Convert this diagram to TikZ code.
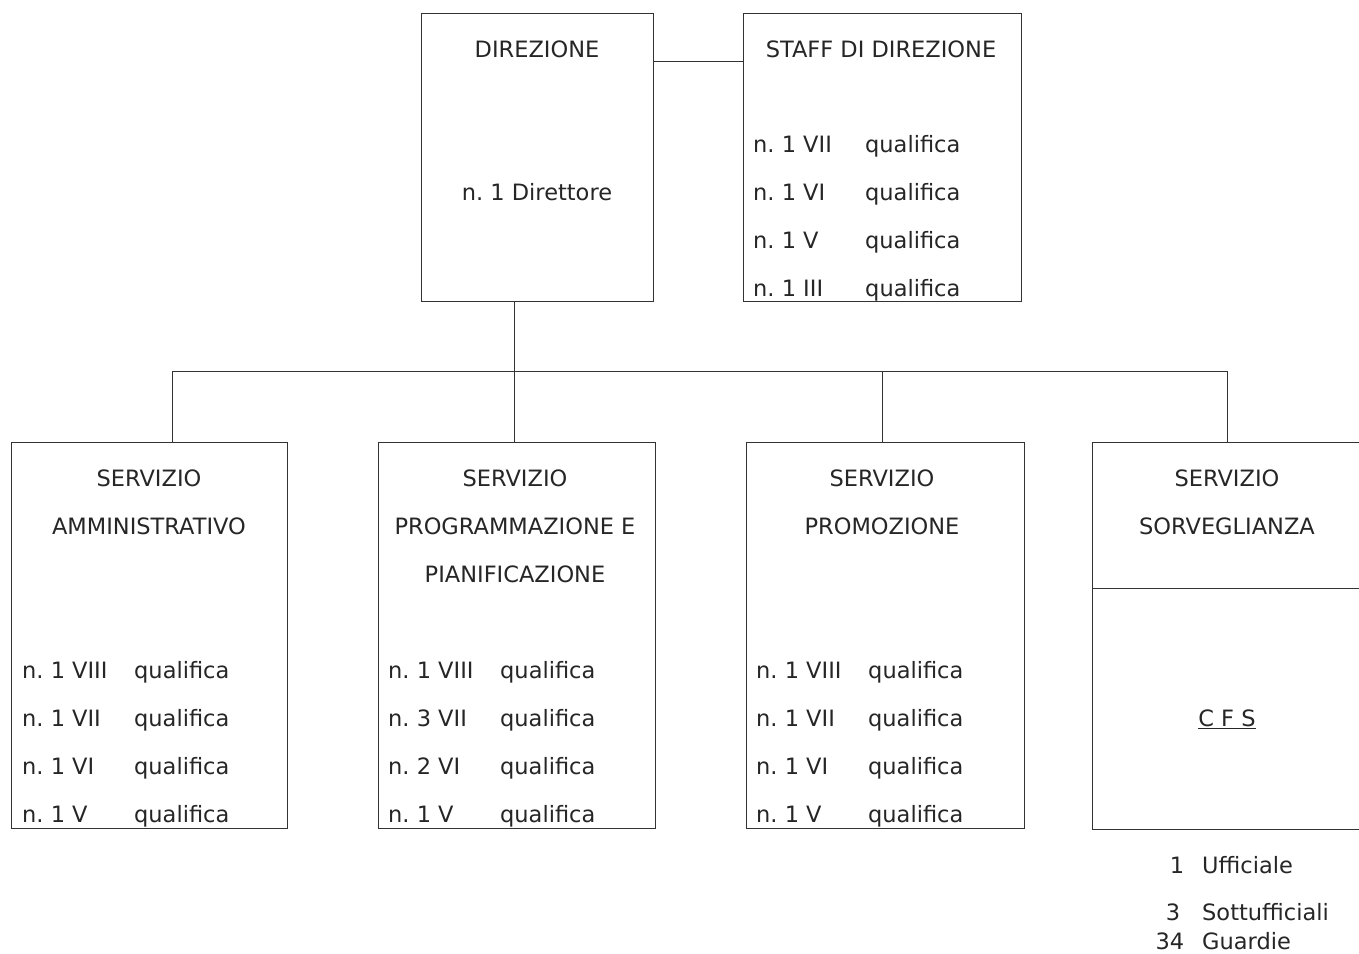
\documentclass[tikz,border=0pt]{standalone}
\usepackage{fontspec}
\setmainfont{DejaVu Sans}
\frenchspacing
\begin{document}
\begin{tikzpicture}[x=1pt,y=-1pt,
  box/.style={draw=black!80, line width=0.9pt, anchor=north west, inner sep=0pt},
  conn/.style={draw=black!80, line width=0.9pt},
  head/.style={anchor=base, inner sep=0pt, text=black!85},
  item/.style={anchor=base west, inner sep=0pt, text=black!85},
  every node/.append style={font=\fontsize{22.5}{27}\selectfont}]
\useasboundingbox (0,0) rectangle (1359,953);
\fill[white] (0,0) rectangle (1359,953);
\newcommand\qrow[2]{\makebox[112pt][l]{#1}#2}
% top boxes
\node[box, minimum width=232pt, minimum height=288pt] (dir) at (421,13) {};
\node[box, minimum width=278pt, minimum height=288pt] (staff) at (743,13) {};
% service boxes
\node[box, minimum width=276pt, minimum height=386pt] (s1) at (11,442) {};
\node[box, minimum width=277pt, minimum height=386pt] (s2) at (378,442) {};
\node[box, minimum width=278pt, minimum height=386pt] (s3) at (746,442) {};
\node[box, minimum width=272pt, minimum height=387pt] (s4) at (1092,442) {};
% helper coordinates
\coordinate (hrow) at (0,61);
\coordinate (bus) at (0,371);
\coordinate (div) at (0,588);
\coordinate (x0) at (514,0);
\coordinate (x1) at (172,0);
\coordinate (x2) at (514,0);
\coordinate (x3) at (882,0);
\coordinate (x4) at (1227,0);
% connectors
\draw[conn] (dir.east |- hrow) -- (staff.west |- hrow);
\draw[conn] (x0 |- dir.south) -- (x0 |- bus);
\draw[conn] (x1 |- bus) -- (x4 |- bus);
\draw[conn] (x1 |- bus) -- (x1 |- s1.north);
\draw[conn] (x2 |- bus) -- (x2 |- s2.north);
\draw[conn] (x3 |- bus) -- (x3 |- s3.north);
\draw[conn] (x4 |- bus) -- (x4 |- s4.north);
\draw[conn] (s4.west |- div) -- (s4.east |- div);
% DIREZIONE
\node[head] (dirt) at (537,57) {DIREZIONE};
\node[head] (dirn) at (537,200) {n. 1 Direttore};
% STAFF
\node[head] (stt) at (881,57) {STAFF DI DIREZIONE};
\node[item] (st1) at (753,152) {\qrow{n. 1 VII}{qualifica}};
\node[item] (st2) at (753,200) {\qrow{n. 1 VI}{qualifica}};
\node[item] (st3) at (753,248) {\qrow{n. 1 V}{qualifica}};
\node[item] (st4) at (753,296) {\qrow{n. 1 III}{qualifica}};
% Servizio amministrativo
\node[head] (s1a) at (149,486) {SERVIZIO};
\node[head] (s1b) at (149,534) {AMMINISTRATIVO};
\node[item] (s1r1) at (22,678) {\qrow{n. 1 VIII}{qualifica}};
\node[item] (s1r2) at (22,726) {\qrow{n. 1 VII}{qualifica}};
\node[item] (s1r3) at (22,774) {\qrow{n. 1 VI}{qualifica}};
\node[item] (s1r4) at (22,822) {\qrow{n. 1 V}{qualifica}};
% Servizio programmazione
\node[head] (s2a) at (515,486) {SERVIZIO};
\node[head] (s2b) at (515,534) {PROGRAMMAZIONE E};
\node[head] (s2c) at (515,582) {PIANIFICAZIONE};
\node[item] (s2r1) at (388,678) {\qrow{n. 1 VIII}{qualifica}};
\node[item] (s2r2) at (388,726) {\qrow{n. 3 VII}{qualifica}};
\node[item] (s2r3) at (388,774) {\qrow{n. 2 VI}{qualifica}};
\node[item] (s2r4) at (388,822) {\qrow{n. 1 V}{qualifica}};
% Servizio promozione
\node[head] (s3a) at (882,486) {SERVIZIO};
\node[head] (s3b) at (882,534) {PROMOZIONE};
\node[item] (s3r1) at (756,678) {\qrow{n. 1 VIII}{qualifica}};
\node[item] (s3r2) at (756,726) {\qrow{n. 1 VII}{qualifica}};
\node[item] (s3r3) at (756,774) {\qrow{n. 1 VI}{qualifica}};
\node[item] (s3r4) at (756,822) {\qrow{n. 1 V}{qualifica}};
% Servizio sorveglianza
\node[head] (s4a) at (1227,486) {SERVIZIO};
\node[head] (s4b) at (1227,534) {SORVEGLIANZA};
\node[head] (cfs) at (1227,726) {\underline{C F S}};
\node[item] (u1) at (1156,873) {\makebox[28pt][r]{1}\hspace{18pt}Ufficiale};
\node[item] (u2) at (1156,920) {\makebox[24pt][r]{3}\hspace{22pt}Sottufficiali};
\node[item] (u3) at (1156,949) {\makebox[28pt][r]{34}\hspace{18pt}Guardie};
\end{tikzpicture}
\end{document}
